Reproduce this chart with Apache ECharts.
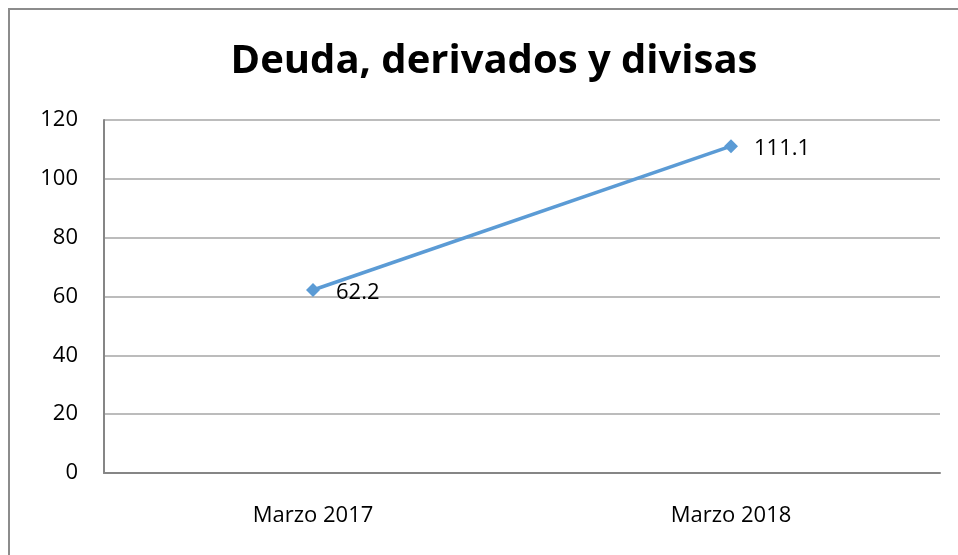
<!DOCTYPE html>
<html>
<head>
<meta charset="utf-8">
<script src="https://cdn.jsdelivr.net/npm/echarts@6/dist/echarts.min.js"></script>
<style>
  html, body { margin: 0; padding: 0; background: #fff; }
  #chart { width: 958px; height: 555px; }
</style>
</head>
<body>
<div id="chart"></div>
<script>
var categories = ["Marzo 2017", "Marzo 2018"];
var values = [62.2, 111.1];
var yTicks = [0, 20, 40, 60, 80, 100, 120];

var font = "Open Sans, Liberation Sans, sans-serif";
var chart = echarts.init(document.getElementById("chart"));

chart.setOption({
    animation: false,
    backgroundColor: "#fff",
    title: {
        text: "Deuda, derivados y divisas",
        left: 489,
        textAlign: "center",
        top: 37,
        textStyle: { fontFamily: font, fontWeight: "bold", fontSize: 40, color: "#000" }
    },
    graphic: [{
        type: "rect",
        shape: { x: 9, y: 9, width: 1000, height: 600 },
        style: { fill: "none", stroke: "#8c8c8c", lineWidth: 2 },
        silent: true
    }],
    grid: { left: 104, right: 18, top: 120, bottom: 82 },
    xAxis: {
        type: "category",
        data: categories,
        boundaryGap: true,
        axisLine: { lineStyle: { color: "#868686", width: 2 } },
        axisTick: { show: false },
        axisLabel: { color: "#000", fontFamily: font, fontSize: 22, margin: 32 }
    },
    yAxis: {
        type: "value",
        min: yTicks[0],
        max: yTicks[yTicks.length - 1],
        interval: 20,
        axisLine: { show: true, lineStyle: { color: "#868686", width: 2 } },
        axisTick: { show: false },
        axisLabel: { color: "#000", fontFamily: font, fontSize: 22, margin: 26 },
        splitLine: { lineStyle: { color: "#a6a6a6", width: 1.5 } }
    },
    series: [{
        type: "line",
        data: values,
        symbol: "diamond",
        symbolSize: 14,
        lineStyle: { color: "#5B9BD5", width: 3.5 },
        itemStyle: { color: "#5B9BD5" },
        label: {
            show: true,
            position: "right",
            distance: 16,
            offset: [0, 3],
            color: "#000",
            fontFamily: font,
            fontSize: 22,
            formatter: function (p) { return p.value.toFixed(1); }
        }
    }]
});
</script>
</body>
</html>
